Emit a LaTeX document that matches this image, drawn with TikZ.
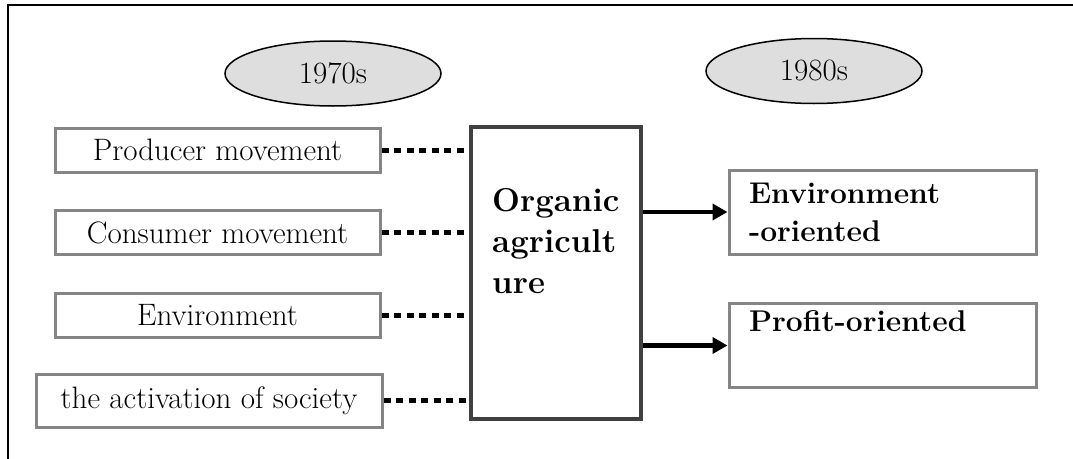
\documentclass[tikz,border=0pt]{standalone}
\usetikzlibrary{shapes.geometric,arrows.meta}
\definecolor{boxgray}{HTML}{858585}
\definecolor{darkframe}{HTML}{404040}
\definecolor{ellfill}{HTML}{DEDEDE}
\begin{document}
\begin{tikzpicture}[x=1pt,y=-1pt,
  era/.style={ellipse,draw=black,line width=1.5pt,fill=ellfill,minimum width=216pt,minimum height=65pt,inner sep=0pt,font=\fontsize{31}{36}\selectfont},
  srcbox/.style={draw=boxgray,line width=3pt,fill=white,inner sep=0pt,font=\fontsize{31}{36}\selectfont},
  outbox/.style={draw=boxgray,line width=3pt,fill=white,minimum width=307pt,minimum height=84pt,inner sep=0pt,text width=267pt,align=left,font=\bfseries\fontsize{30}{38}\selectfont},
  linkdots/.style={line width=5pt,dash pattern=on 7pt off 5.5pt},
  flow/.style={line width=4.5pt,-{Triangle[length=15pt,width=16pt]}}
]
\useasboundingbox (0,0) rectangle (1073,458);
\draw[line width=2pt] (8,470) -- (8,5) -- (1080,5);

\node[era] (e70) at (333,73.5) {1970s};
\node[era] (e80) at (814,71) {1980s};

\node[srcbox,minimum width=325pt,minimum height=44pt] (prod) at (217.5,150) {Producer movement};
\node[srcbox,minimum width=325pt,minimum height=44pt] (cons) at (217.5,232.5) {Consumer movement};
\node[srcbox,minimum width=325pt,minimum height=44pt] (envi) at (217.5,315) {Environment};
\node[srcbox,minimum width=346pt,minimum height=53pt] (soc) at (209,400.5) {the activation of society};

\node[draw=darkframe,line width=4.5pt,fill=white,minimum width=170pt,minimum height=292pt,inner sep=0pt] (org) at (556,273) {};
\node[anchor=north west,align=left,inner sep=0pt,font=\bfseries\fontsize{33}{41}\selectfont] (orgtxt) at (492,188) {Organic\\agricult\\ure};

\node[outbox] (envo) at (882.5,212) {Environment\\-oriented};
\node[outbox] (prof) at (882.5,345.5) {Profit-oriented\\\strut};

\foreach \s in {prod,cons,envi,soc}
  \draw[linkdots] (\s.east) -- ([xshift=-2pt]\s.east -| org.west);

\draw[flow] (org.east |- envo.west) -- (envo.west);
\draw[flow] (org.east |- prof.west) -- (prof.west);
\end{tikzpicture}
\end{document}
